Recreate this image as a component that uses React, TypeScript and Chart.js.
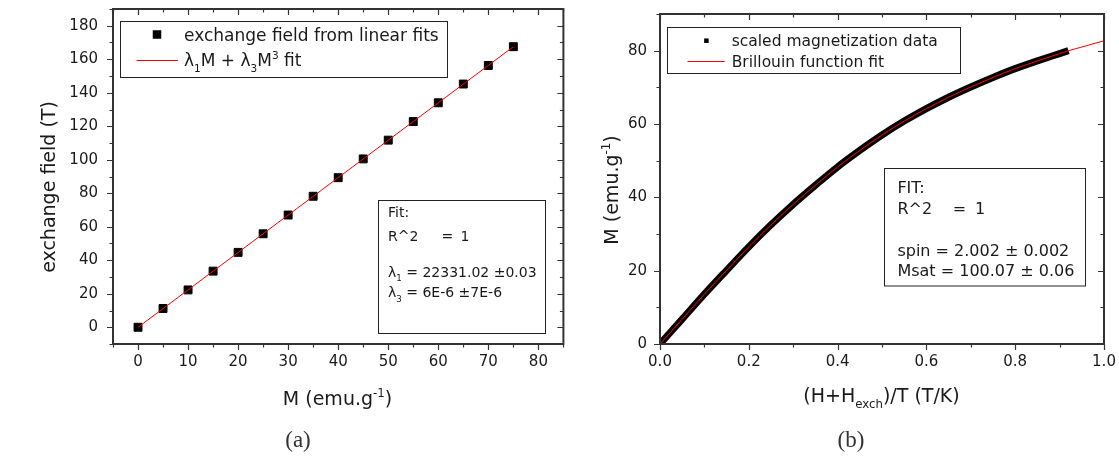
import React, { useEffect, useRef } from 'react';
import { Chart, registerables } from 'chart.js';

Chart.register(...registerables);

const FONT = "'DejaVu Sans', Verdana, sans-serif";
const TEXT = '#1a1a1a';

// ---------- (a) exchange field vs M ----------
const A_M = [0, 5, 10, 15, 20, 25, 30, 35, 40, 45, 50, 55, 60, 65, 70, 75];
const A_FIELD = [0, 11.2, 22.3, 33.5, 44.7, 55.8, 67.0, 78.2, 89.3, 100.5, 111.7, 122.8, 134.0, 145.2, 156.3, 167.5];
const A_FIT_M = [0, 75];
const A_FIT_FIELD = [0, 167.5];
const A_X_TICKS = [0, 10, 20, 30, 40, 50, 60, 70, 80];
const A_Y_TICKS = [0, 20, 40, 60, 80, 100, 120, 140, 160, 180];
const A_SERIES = ['exchange field from linear fits', 'λ_{1}M + λ_{3}M^{3} fit'];
const A_X_TITLE = 'M (emu.g^{-1})';
const A_Y_TITLE = 'exchange field (T)';
const A_FIT_LINES = ['Fit:', 'R^2|=|1', '', 'λ_{1} = 22331.02 ±0.03', 'λ_{3} = 6E-6 ±7E-6'];
const A_CAPTION = '(a)';

// ---------- (b) M vs (H+Hexch)/T ----------
const B_X = [0, 0.05, 0.1, 0.15, 0.2, 0.25, 0.3, 0.35, 0.4, 0.45, 0.5, 0.55, 0.6, 0.65, 0.7, 0.75, 0.8, 0.85, 0.9, 0.92];
const B_M = [0, 6.8, 13.6, 20.1, 26.5, 32.5, 38.1, 43.3, 48.3, 52.8, 57.0, 60.8, 64.2, 67.3, 70.1, 72.7, 75.1, 77.2, 79.2, 80.0];
const B_FIT_X = [0, 0.05, 0.1, 0.15, 0.2, 0.25, 0.3, 0.35, 0.4, 0.45, 0.5, 0.55, 0.6, 0.65, 0.7, 0.75, 0.8, 0.85, 0.9, 0.92, 0.95, 1.0];
const B_FIT_M = [0, 6.8, 13.6, 20.1, 26.5, 32.5, 38.1, 43.3, 48.3, 52.8, 57.0, 60.8, 64.2, 67.3, 70.1, 72.7, 75.1, 77.2, 79.2, 80.0, 81.0, 82.7];
const B_X_TICKS = [0, 0.2, 0.4, 0.6, 0.8, 1.0];
const B_X_TICK_LABELS = ['0.0', '0.2', '0.4', '0.6', '0.8', '1.0'];
const B_Y_TICKS = [0, 20, 40, 60, 80];
const B_SERIES = ['scaled magnetization data', 'Brillouin function fit'];
const B_X_TITLE = '(H+H_{exch})/T (T/K)';
const B_Y_TITLE = 'M (emu.g^{-1})';
const B_FIT_LINES = ['FIT:', 'R^2|=|1', '', 'spin = 2.002 ± 0.002', 'Msat = 100.07 ± 0.06'];
const B_CAPTION = '(b)';

type Run = { t: string; k: number };
function parseRich(s: string): Run[] {
  const runs: Run[] = [];
  let buf = '';
  let i = 0;
  while (i < s.length) {
    if ((s[i] === '_' || s[i] === '^') && s[i + 1] === '{') {
      if (buf) runs.push({ t: buf, k: 0 });
      buf = '';
      const end = s.indexOf('}', i);
      runs.push({ t: s.slice(i + 2, end), k: s[i] === '_' ? 1 : 2 });
      i = end + 1;
    } else {
      buf += s[i];
      i++;
    }
  }
  if (buf) runs.push({ t: buf, k: 0 });
  return runs;
}

function drawRich(ctx: CanvasRenderingContext2D, s: string, x: number, y: number, size: number, align: 'left' | 'center') {
  const runs = parseRich(s);
  const fontFor = (k: number) => `${k ? size * 0.62 : size}px ${FONT}`;
  const widths = runs.map((r) => {
    ctx.font = fontFor(r.k);
    return ctx.measureText(r.t).width;
  });
  const total = widths.reduce((a, b) => a + b, 0);
  let cx = align === 'center' ? x - total / 2 : x;
  const base = y + size * 0.36;
  ctx.textBaseline = 'alphabetic';
  ctx.textAlign = 'left';
  runs.forEach((r, i) => {
    ctx.font = fontFor(r.k);
    const dy = r.k === 1 ? size * 0.32 : r.k === 2 ? -size * 0.42 : 0;
    ctx.fillText(r.t, cx, base + dy);
    cx += widths[i];
  });
}

const frameTicks = {
  id: 'frameTicks',
  afterDraw(chart: any, _a: any, o: any) {
    const { ctx, chartArea: ca, scales } = chart;
    const xs = scales.x;
    const ys = scales.y;
    ctx.save();
    ctx.strokeStyle = o.color;
    ctx.lineWidth = o.tickWidth;
    const loop = (min: number, max: number, minor: number, major: number, cb: (v: number, len: number) => void) => {
      const n0 = Math.ceil(min / minor - 1e-9);
      const n1 = Math.floor(max / minor + 1e-9);
      for (let n = n0; n <= n1; n++) {
        const v = n * minor;
        const isMajor = Math.abs(v / major - Math.round(v / major)) < 1e-6;
        cb(v, isMajor ? o.major : o.minor);
      }
    };
    ctx.beginPath();
    loop(xs.min, xs.max, o.xMinor, o.xMajor, (v, len) => {
      const px = Math.round(xs.getPixelForValue(v)) + 0.5;
      ctx.moveTo(px, ca.bottom);
      ctx.lineTo(px, ca.bottom + len);
      ctx.moveTo(px, ca.top);
      ctx.lineTo(px, ca.top + len);
    });
    loop(ys.min, ys.max, o.yMinor, o.yMajor, (v, len) => {
      const py = Math.round(ys.getPixelForValue(v)) + 0.5;
      ctx.moveTo(ca.left, py);
      ctx.lineTo(ca.left - len, py);
      ctx.moveTo(ca.right, py);
      ctx.lineTo(ca.right - len, py);
    });
    ctx.stroke();
    ctx.lineWidth = o.frameWidth;
    ctx.strokeRect(ca.left, ca.top, ca.right - ca.left, ca.bottom - ca.top);
    ctx.restore();
  },
};

const annot = {
  id: 'annot',
  afterDraw(chart: any, _a: any, o: any) {
    const ctx: CanvasRenderingContext2D = chart.ctx;
    ctx.save();
    ctx.fillStyle = TEXT;
    o.titles.forEach((t: any) => {
      ctx.save();
      ctx.translate(t.x, t.y);
      if (t.rot) ctx.rotate(-Math.PI / 2);
      drawRich(ctx, t.text, 0, 0, t.size, 'center');
      ctx.restore();
    });
    const L = o.legend;
    ctx.strokeStyle = '#222';
    ctx.lineWidth = 1;
    ctx.fillStyle = '#fff';
    ctx.fillRect(L.box[0], L.box[1], L.box[2], L.box[3]);
    ctx.strokeRect(L.box[0] + 0.5, L.box[1] + 0.5, L.box[2], L.box[3]);
    L.rows.forEach((r: any, i: number) => {
      const ds = chart.data.datasets[i];
      if (r.kind === 'square') {
        ctx.fillStyle = ds.pointBackgroundColor;
        ctx.fillRect(r.symX - r.sym / 2, r.y - r.sym / 2, r.sym, r.sym);
      } else {
        ctx.strokeStyle = ds.borderColor;
        ctx.lineWidth = 1;
        ctx.beginPath();
        ctx.moveTo(r.sym[0], Math.round(r.y) + 0.5);
        ctx.lineTo(r.sym[1], Math.round(r.y) + 0.5);
        ctx.stroke();
      }
      ctx.fillStyle = TEXT;
      drawRich(ctx, ds.label, r.textX, r.y, L.size, 'left');
    });
    const F = o.fit;
    ctx.strokeStyle = '#222';
    ctx.lineWidth = 1;
    ctx.fillStyle = '#fff';
    ctx.fillRect(F.box[0], F.box[1], F.box[2], F.box[3]);
    ctx.strokeRect(F.box[0] + 0.5, F.box[1] + 0.5, F.box[2], F.box[3]);
    ctx.fillStyle = TEXT;
    F.lines.forEach((line: string, i: number) => {
      if (!line) return;
      const parts = line.split('|');
      parts.forEach((p, j) => {
        drawRich(ctx, p, j === 0 ? F.x : F.cols[j - 1], F.ys[i], F.size, 'left');
      });
    });
    ctx.restore();
  },
};

function scaleCommon(ticks: number[], labels: string[] | null, padding: number, fit: (s: any) => void) {
  return {
    type: 'linear' as const,
    afterBuildTicks: (s: any) => {
      s.ticks = ticks.map((v) => ({ value: v }));
    },
    afterFit: fit,
    ticks: {
      font: { size: 15, family: FONT },
      color: TEXT,
      padding,
      maxRotation: 0,
      autoSkip: false,
      callback: (v: any, i: number) => (labels ? labels[i] : String(v)),
    },
    grid: { display: false, drawTicks: false },
    border: { display: false },
  };
}

export default function App() {
  const refA = useRef<HTMLCanvasElement>(null);
  const refB = useRef<HTMLCanvasElement>(null);

  useEffect(() => {
    Chart.defaults.font.family = FONT;
    const chartA = new Chart(refA.current!, {
      type: 'scatter',
      data: {
        datasets: [
          {
            label: A_SERIES[0],
            data: A_M.map((x, i) => ({ x, y: A_FIELD[i] })),
            pointStyle: 'rect',
            pointRadius: 5.6,
            pointBackgroundColor: '#000',
            pointBorderColor: '#000',
            pointBorderWidth: 1,
            showLine: false,
            order: 2,
          } as any,
          {
            label: A_SERIES[1],
            data: A_FIT_M.map((x, i) => ({ x, y: A_FIT_FIELD[i] })),
            showLine: true,
            borderColor: '#ff0000',
            borderWidth: 1,
            pointRadius: 0,
            order: 1,
          } as any,
        ],
      },
      options: {
        animation: false,
        responsive: false,
        events: [],
        layout: { padding: { top: 9, right: 6, left: 0, bottom: 0 } },
        plugins: {
          legend: { display: false },
          tooltip: { enabled: false },
          frameTicks: { color: '#333', tickWidth: 1.2, frameWidth: 2, major: 6, minor: 3.5, xMajor: 10, xMinor: 5, yMajor: 20, yMinor: 10 },
          annot: {
            titles: [
              { text: A_Y_TITLE, x: 48, y: 187, size: 19, rot: true },
              { text: A_X_TITLE, x: 337.5, y: 398, size: 19, rot: false },
            ],
            legend: {
              box: [120, 21, 327, 56],
              size: 17,
              rows: [
                { kind: 'square', sym: 8.5, symX: 157, y: 34.5, textX: 184 },
                { kind: 'line', sym: [136.5, 178], y: 60.3, textX: 184 },
              ],
            },
            fit: {
              box: [378, 200, 167, 133],
              size: 14,
              x: 388,
              cols: [441.5, 460.5],
              lines: A_FIT_LINES,
              ys: [212, 235.5, 0, 271.5, 292],
            },
          },
        } as any,
        scales: {
          x: {
            ...scaleCommon(A_X_TICKS, null, 9, (s: any) => {
              s.height = 113;
              s.paddingLeft = 0;
              s.paddingRight = 0;
            }),
            min: -5,
            max: 85,
          },
          y: {
            ...scaleCommon(A_Y_TICKS, null, 15, (s: any) => {
              s.width = 113;
              s.paddingTop = 0;
              s.paddingBottom = 0;
            }),
            min: -10,
            max: 190,
          },
        } as any,
      },
      plugins: [frameTicks, annot],
    });

    const chartB = new Chart(refB.current!, {
      type: 'scatter',
      data: {
        datasets: [
          {
            label: B_SERIES[0],
            data: B_X.map((x, i) => ({ x, y: B_M[i] })),
            showLine: true,
            borderColor: '#000',
            borderWidth: 7,
            borderJoinStyle: 'round',
            cubicInterpolationMode: 'monotone',
            pointRadius: 0,
            pointBackgroundColor: '#000',
            order: 2,
          } as any,
          {
            label: B_SERIES[1],
            data: B_FIT_X.map((x, i) => ({ x, y: B_FIT_M[i] })),
            showLine: true,
            borderColor: '#ff0000',
            borderWidth: 1,
            cubicInterpolationMode: 'monotone',
            pointRadius: 0,
            order: 1,
          } as any,
        ],
      },
      options: {
        animation: false,
        responsive: false,
        events: [],
        layout: { padding: { top: 14, right: 15, left: 0, bottom: 0 } },
        plugins: {
          legend: { display: false },
          tooltip: { enabled: false },
          frameTicks: { color: '#333', tickWidth: 1.2, frameWidth: 2, major: 6, minor: 3.5, xMajor: 0.2, xMinor: 0.1, yMajor: 20, yMinor: 10 },
          annot: {
            titles: [
              { text: B_Y_TITLE, x: 41, y: 190, size: 19, rot: true },
              { text: B_X_TITLE, x: 311.5, y: 395, size: 19, rot: false },
            ],
            legend: {
              box: [97, 27, 293, 46],
              size: 15.5,
              rows: [
                { kind: 'square', sym: 4.5, symX: 136.4, y: 40.7, textX: 161.7 },
                { kind: 'line', sym: [117.5, 154.6], y: 61, textX: 161.7 },
              ],
            },
            fit: {
              box: [314, 168, 201, 117.5],
              size: 16,
              x: 327.4,
              cols: [382.7, 405],
              lines: B_FIT_LINES,
              ys: [187, 208, 0, 250, 270],
            },
          },
        } as any,
        scales: {
          x: {
            ...scaleCommon(B_X_TICKS, B_X_TICK_LABELS, 9, (s: any) => {
              s.height = 113;
              s.paddingLeft = 0;
              s.paddingRight = 0;
            }),
            min: 0,
            max: 1,
          },
          y: {
            ...scaleCommon(B_Y_TICKS, null, 13, (s: any) => {
              s.width = 90;
              s.paddingTop = 0;
              s.paddingBottom = 0;
            }),
            min: 0,
            max: 90,
          },
        } as any,
      },
      plugins: [frameTicks, annot],
    });

    return () => {
      chartA.destroy();
      chartB.destroy();
    };
  }, []);

  const capStyle: React.CSSProperties = {
    position: 'absolute',
    top: 426,
    width: 80,
    textAlign: 'center',
    fontFamily: "'Liberation Serif', 'DejaVu Serif', serif",
    fontSize: 23,
    lineHeight: '28px',
    color: '#333',
  };

  return (
    <div style={{ position: 'absolute', left: 0, top: 0, width: 1119, height: 457, background: '#fff', overflow: 'hidden' }}>
      <canvas ref={refA} width={570} height={457} style={{ position: 'absolute', left: 0, top: 0 }} />
      <canvas ref={refB} width={549} height={457} style={{ position: 'absolute', left: 570, top: 0 }} />
      <div style={{ ...capStyle, left: 258 }}>{A_CAPTION}</div>
      <div style={{ ...capStyle, left: 811 }}>{B_CAPTION}</div>
    </div>
  );
}
